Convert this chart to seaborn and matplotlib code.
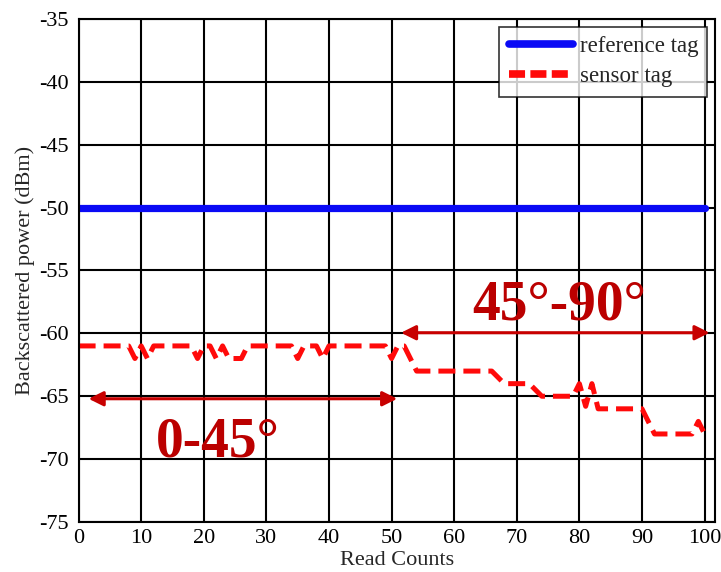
import matplotlib
matplotlib.use("Agg")
import matplotlib.pyplot as plt
import seaborn as sns
import numpy as np
import pandas as pd

# ---- data ----
read_counts = list(range(0, 101))
reference_tag = [-50.0] * 101
sensor_tag = (
    [-61] * 9 +                      # 0-8
    [-62, -61, -62, -61] +           # 9-12
    [-61] * 6 +                      # 13-18
    [-62, -61, -61, -62, -61, -62, -62, -62] +   # 19-26
    [-61] * 8 +                      # 27-34
    [-62, -61, -61, -61, -62, -61] + # 35-40
    [-61] * 8 +                      # 41-48
    [-61, -62, -61, -61, -62, -63] + # 49-54
    [-63] * 12 +                     # 55-66
    [-63.5, -64] +                   # 67-68
    [-64] * 4 +                      # 69-72
    [-64.5, -65] +                   # 73-74
    [-65] * 5 +                      # 75-79
    [-64, -65.8, -64, -66] +         # 80-83
    [-66] * 7 +                      # 84-90
    [-67] +                          # 91
    [-68] * 7 +                      # 92-98
    [-67, -68]                       # 99-100
)
series_names = ["reference tag", "sensor tag"]
x_ticks = list(range(0, 101, 10))
y_ticks = list(range(-75, -34, 5))
annot_labels = ["0-45°", "45°-90°"]

df = pd.DataFrame({
    "Read Counts": read_counts * 2,
    "power": reference_tag + sensor_tag,
    "series": [series_names[0]] * 101 + [series_names[1]] * 101,
})

sns.set_style("white")
plt.rcParams["font.family"] = ["Liberation Serif", "DejaVu Serif"]
plt.rcParams["axes.unicode_minus"] = False

fig = plt.figure(figsize=(7.21, 5.72), dpi=100)
ax = fig.add_axes([0.109, 0.0874, 0.883, 0.8795])

sns.lineplot(data=df[df.series == series_names[0]], x="Read Counts", y="power",
             color="#0a0af5", linewidth=5.2, ax=ax, label=series_names[0])
sns.lineplot(data=df[df.series == series_names[1]], x="Read Counts", y="power",
             color="#ff0a0a", linewidth=3.6, ax=ax, label=series_names[1],
             dashes=False)
ax.lines[1].set_dashes([3.4, 1.6])
ax.lines[1].set_dash_capstyle("butt")

ax.set_xlim(0, 101.7)
ax.set_ylim(-75, -35)
ax.set_xticks(x_ticks)
ax.set_yticks(y_ticks)
ax.grid(True, color="black", linewidth=1.5)
ax.set_axisbelow(True)
for s in ax.spines.values():
    s.set_color("black")
    s.set_linewidth(1.5)
ax.tick_params(axis="both", direction="in", length=4, width=1.2, labelsize=16,
               top=True, right=True, colors="black")
ax.tick_params(axis="y", pad=7)
ax.tick_params(axis="x", pad=5)
ax.set_xlabel("Read Counts", fontsize=16, labelpad=2.5)
ax.set_ylabel("Backscattered power (dBm)", fontsize=16, labelpad=3)

leg = ax.legend(loc="upper right", fontsize=16.5, frameon=True, fancybox=False,
                edgecolor="black", borderaxespad=0.35, handlelength=2.8,
                borderpad=0.4, labelspacing=0.4, handletextpad=0.3)
leg.get_frame().set_linewidth(1.2)
leg.get_lines()[0].set_linewidth(5.5)
leg.get_lines()[1].set_linewidth(5.5)
leg.get_lines()[1].set_dashes([2.1, 0.7])

arrow_col = "#c80000"
text_col = "#bb0000"
ax.annotate("", xy=(1.6, -65.2), xytext=(50.9, -65.2),
            arrowprops=dict(arrowstyle="<|-|>", color=arrow_col, lw=2.2,
                            mutation_scale=22, shrinkA=0, shrinkB=0))
ax.annotate("", xy=(51.5, -59.95), xytext=(100.8, -59.95),
            arrowprops=dict(arrowstyle="<|-|>", color=arrow_col, lw=2.2,
                            mutation_scale=22, shrinkA=0, shrinkB=0))
ax.text(22.3, -68.7, annot_labels[0], fontsize=40, fontweight="bold",
        color=text_col, ha="center", va="center")
ax.text(76.8, -57.8, annot_labels[1], fontsize=40, fontweight="bold",
        color=text_col, ha="center", va="center")

fig.savefig("out.png", dpi=100)
